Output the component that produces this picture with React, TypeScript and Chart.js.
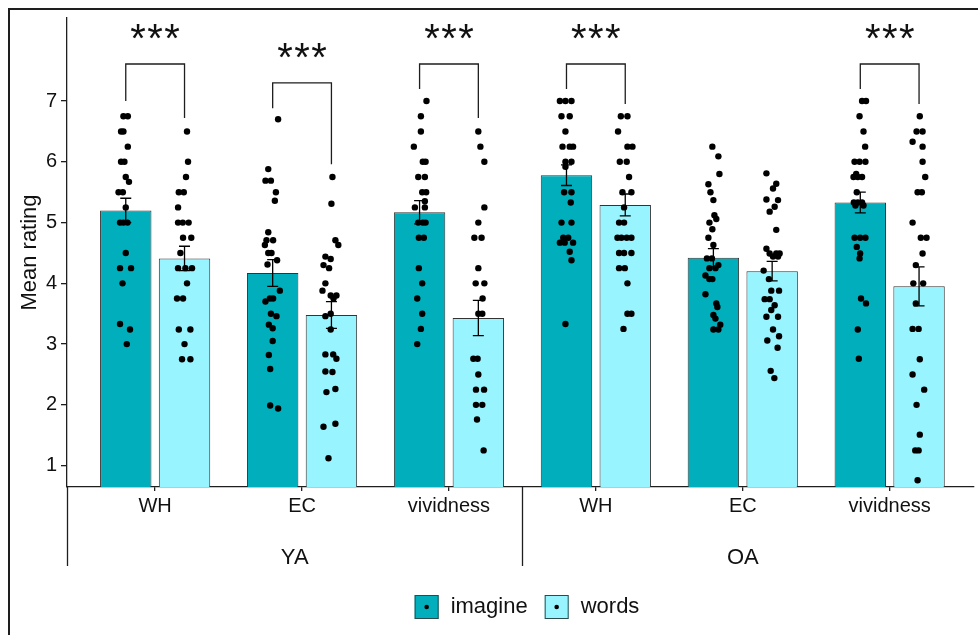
import React, { useEffect, useRef } from "react";
import { Chart, registerables } from "chart.js";

Chart.register(...registerables);

// ---------------- data ----------------
const CATEGORIES = ["WH", "EC", "vividness", "WH", "EC", "vividness"];
const GROUPS = ["YA", "OA"];
const GROUP_START = [-0.6, 2.5];
const GROUP_END = [2.5, 5.5];
const SERIES = ["imagine", "words"];

const IMAGINE_MEANS = [5.2, 4.17, 5.17, 5.78, 4.42, 5.33];
const IMAGINE_SE = [0.2, 0.22, 0.19, 0.17, 0.15, 0.17];
const WORDS_MEANS = [4.41, 3.48, 3.43, 5.29, 4.2, 3.95];
const WORDS_SE = [0.2, 0.22, 0.29, 0.18, 0.16, 0.32];

const Y_TICKS = [1, 2, 3, 4, 5, 6, 7];
const Y_MIN = 0.648;
const Y_MAX = 8.367;

// significance brackets
const SIG_CATS = [0, 1, 2, 3, 5];
const SIG_TOP = [7.61, 7.3, 7.61, 7.61, 7.61];
const SIG_LEFT_END = [7.0, 6.88, 7.2, 7.2, 7.2];
const SIG_RIGHT_END = [6.72, 5.96, 6.72, 6.95, 6.95];
const SIG_LABELS = ["***", "***", "***", "***", "***"];

// individual ratings: [value, horizontal jitter in category units]
const IMAGINE_POINTS: number[][][] = [
  [[6.75,-.016],[6.75,.014],[6.5,-.032],[6.5,-.016],[6.25,.014],[6.0,-.032],[6.0,-.009],[5.75,0],[5.67,.022],[5.5,-.049],[5.5,-.02],[5.25,0],[5.0,-.039],[5.0,-.016],[5.0,.012],[4.5,0],[4.25,-.039],[4.25,.036],[4.0,-.022],[3.33,-.039],[3.24,.029],[3.0,.007]],
  [[6.7,.037],[5.88,-.03],[5.69,-.049],[5.69,-.012],[5.5,.022],[5.36,.015],[4.84,-.03],[4.71,-.042],[4.71,.003],[4.63,-.053],[4.5,-.03],[4.5,-.008],[4.38,.03],[4.31,-.035],[3.88,.049],[3.75,-.019],[3.75,.003],[3.7,-.049],[3.5,-.012],[3.46,.026],[3.32,-.026],[3.26,0],[3.05,0],[2.82,-.026],[2.59,-.017],[1.99,-.017],[1.94,.037]],
  [[7.0,.047],[6.75,.009],[6.5,.009],[6.25,-.039],[6.0,.022],[6.0,.041],[5.75,-.009],[5.75,.036],[5.5,.018],[5.5,.045],[5.35,.036],[5.25,-.032],[5.25,.036],[5.0,-.009],[5.0,.022],[5.0,.041],[4.75,-.005],[4.75,.029],[4.25,-.005],[4.0,.018],[3.75,-.016],[3.5,.018],[3.25,.009],[3.0,-.016]],
  [[7.0,-.045],[7.0,-.007],[7.0,.034],[6.75,-.034],[6.75,.022],[6.5,-.007],[6.25,-.027],[6.25,.022],[6.25,.045],[6.0,-.007],[6.0,.034],[5.92,-.007],[5.5,-.016],[5.5,.034],[5.33,.029],[5.0,-.034],[5.0,.034],[4.75,-.022],[4.75,.012],[4.67,-.045],[4.67,-.012],[4.67,.045],[4.52,.022],[4.38,.034],[3.33,-.007]],
  [[6.25,-.007],[6.09,.034],[5.8,.041],[5.63,-.034],[5.5,-.02],[5.37,0],[5.12,.007],[5.06,.02],[5.0,-.027],[4.89,-.007],[4.75,-.034],[4.63,0],[4.41,-.044],[4.41,-.01],[4.3,.034],[4.25,-.027],[4.25,.014],[4.13,-.054],[4.07,-.027],[4.07,-.007],[3.82,-.054],[3.67,.02],[3.61,.027],[3.48,0],[3.42,.014],[3.32,.047],[3.24,0],[3.24,.034]],
  [[7.0,.012],[7.0,.039],[6.75,-.005],[6.5,.022],[6.25,.033],[6.0,-.039],[6.0,-.005],[6.0,.035],[5.8,-.028],[5.75,-.046],[5.75,-.017],[5.75,.012],[5.5,-.024],[5.33,-.044],[5.33,-.017],[5.33,.012],[5.28,-.033],[5.28,.022],[4.75,-.039],[4.75,-.001],[4.75,.035],[4.6,-.024],[4.49,-.001],[4.41,-.005],[3.75,.005],[3.67,.039],[3.24,-.017],[2.76,-.01]],
];

const WORDS_POINTS: number[][][] = [
  [[6.5,.017],[6.0,.024],[5.75,.01],[5.5,-.039],[5.5,-.005],[5.25,-.044],[5.0,-.044],[5.0,-.012],[5.0,.028],[4.75,-.01],[4.75,.046],[4.5,-.028],[4.25,-.044],[4.25,.006],[4.25,.051],[4.0,.017],[3.75,-.051],[3.75,-.01],[3.24,-.039],[3.24,.04],[3.0,0],[2.75,-.017],[2.75,.04]],
  [[5.75,.007],[5.31,0],[4.71,.027],[4.63,.047],[4.44,-.041],[4.4,-.005],[4.3,-.054],[4.25,-.016],[4.0,-.041],[3.88,-.061],[3.8,-.005],[3.8,.034],[3.75,.014],[3.5,-.005],[3.46,-.041],[3.24,-.005],[2.83,-.041],[2.83,.012],[2.76,.034],[2.55,-.041],[2.54,.007],[2.26,.027],[2.21,-.034],[1.69,.027],[1.64,-.054],[1.12,-.02]],
  [[6.5,0],[6.25,.014],[6.0,.041],[5.25,.041],[5.0,0],[4.75,-.027],[4.75,.022],[4.25,0],[4.0,-.018],[4.0,.041],[3.75,.029],[3.5,0],[3.5,.027],[2.76,-.034],[2.76,-.005],[2.5,0],[2.25,-.016],[2.25,.039],[2.0,-.016],[2.0,.027],[1.76,-.009],[1.25,.036]],
  [[6.75,-.03],[6.75,.015],[6.5,-.049],[6.25,.015],[6.25,.049],[6.0,-.037],[6.0,.01],[5.75,.026],[5.5,-.019],[5.5,.042],[5.25,-.008],[5.0,-.042],[5.0,-.008],[4.75,-.053],[4.75,-.026],[4.75,.01],[4.75,.042],[4.5,-.042],[4.5,-.008],[4.5,.042],[4.25,-.042],[4.25,-.003],[4.0,.015],[3.5,.015],[3.5,.042],[3.25,-.012]],
  [[5.81,-.039],[5.64,.028],[5.56,.006],[5.38,-.039],[5.37,.04],[5.26,.017],[5.18,-.017],[4.88,.028],[4.57,-.039],[4.49,-.017],[4.49,.028],[4.49,.051],[4.44,.006],[4.44,.04],[4.21,-.058],[4.07,-.022],[3.88,-.006],[3.88,.047],[3.74,-.051],[3.74,-.017],[3.64,.017],[3.56,-.006],[3.45,-.039],[3.45,.04],[3.24,.006],[3.13,.047],[3.06,-.033],[2.94,.037],[2.56,-.01],[2.44,.015]],
  [[6.75,.005],[6.5,-.017],[6.5,.024],[6.33,-.044],[6.25,.024],[6.0,.024],[5.75,.042],[5.5,-.01],[5.5,.019],[5.0,-.044],[4.75,.012],[4.75,.051],[4.49,.024],[4.3,-.022],[4.0,-.039],[4.0,.028],[3.67,-.022],[3.25,-.044],[3.25,-.003],[2.75,.005],[2.5,-.044],[2.25,.035],[2.0,-.017],[1.51,.005],[1.25,-.026],[1.25,-.003],[0.76,-.01]],
];

// ---------------- style ----------------
const TEAL = "#00AFBB";
const LIGHT = "#98F5FF";
const INK = "#111111";
const LINE = "#1e1e1e";
const FONT = "'Liberation Sans', Arial, sans-serif";
const CATEGORY_PCT = 0.8;
const BAR_PCT = 0.875;
const DODGE = CATEGORY_PCT / 4;

const W = 978;
const H = 635;

function pointsFor(points: number[][][], side: number) {
  const out: { x: number; y: number }[] = [];
  points.forEach((arr, i) => {
    arr.forEach(([v, j]) => out.push({ x: i + side * DODGE + j, y: v }));
  });
  return out;
}

const overlayPlugin = {
  id: "overlay",
  afterDatasetsDraw(chart: any) {
    const { ctx, scales } = chart;
    const y = scales.y;
    const metas = [chart.getDatasetMeta(0), chart.getDatasetMeta(1)];
    const means = [IMAGINE_MEANS, WORDS_MEANS];
    const ses = [IMAGINE_SE, WORDS_SE];
    ctx.save();
    ctx.strokeStyle = "#000";
    ctx.lineWidth = 1.3;
    for (let s = 0; s < 2; s++) {
      means[s].forEach((m, i) => {
        const cx = metas[s].data[i].x;
        const y1 = y.getPixelForValue(m + ses[s][i]);
        const y2 = y.getPixelForValue(m - ses[s][i]);
        ctx.beginPath();
        ctx.moveTo(cx, y1);
        ctx.lineTo(cx, y2);
        ctx.moveTo(cx - 5.5, y1);
        ctx.lineTo(cx + 5.5, y1);
        ctx.moveTo(cx - 5.5, y2);
        ctx.lineTo(cx + 5.5, y2);
        ctx.stroke();
      });
    }
    ctx.restore();
  },
  afterDraw(chart: any) {
    const { ctx, scales, chartArea } = chart;
    const x = scales.x;
    const y = scales.y;
    const metas = [chart.getDatasetMeta(0), chart.getDatasetMeta(1)];
    ctx.save();

    // significance brackets
    ctx.strokeStyle = LINE;
    ctx.lineWidth = 1.3;
    SIG_CATS.forEach((c, k) => {
      const xl = metas[0].data[c].x;
      const xr = metas[1].data[c].x;
      const yt = y.getPixelForValue(SIG_TOP[k]);
      ctx.beginPath();
      ctx.moveTo(xl, y.getPixelForValue(SIG_LEFT_END[k]));
      ctx.lineTo(xl, yt);
      ctx.lineTo(xr, yt);
      ctx.lineTo(xr, y.getPixelForValue(SIG_RIGHT_END[k]));
      ctx.stroke();
      // stars
      ctx.fillStyle = INK;
      ctx.font = `40px ${FONT}`;
      ctx.textAlign = "center";
      ctx.textBaseline = "alphabetic";
      const m = ctx.measureText("*");
      const off = (m.actualBoundingBoxAscent - m.actualBoundingBoxDescent) / 2;
      const cy = yt - 32.5;
      const mid = (xl + xr) / 2;
      const n = SIG_LABELS[k].length;
      for (let s = 0; s < n; s++) {
        ctx.fillText("*", mid + (s - (n - 1) / 2) * 17, cy + off);
      }
    });

    // group separators and labels
    const b = chartArea.bottom;
    ctx.strokeStyle = LINE;
    ctx.lineWidth = 1.3;
    const seps = Array.from(new Set([...GROUP_START, GROUP_END[0]]));
    seps.forEach((v) => {
      const px = Math.round(x.getPixelForValue(v)) + 0.5;
      ctx.beginPath();
      ctx.moveTo(px, b);
      ctx.lineTo(px, b + 79);
      ctx.stroke();
    });
    ctx.fillStyle = INK;
    ctx.font = `22px ${FONT}`;
    ctx.textAlign = "center";
    ctx.textBaseline = "middle";
    GROUPS.forEach((g, i) => {
      const px = x.getPixelForValue((GROUP_START[i] + GROUP_END[i]) / 2);
      ctx.fillText(g, px, b + 71);
    });

    // legend
    const colors = [TEAL, LIGHT];
    ctx.font = `22px ${FONT}`;
    const box = 24;
    const gapText = 12;
    const gapItem = 17;
    const widths = SERIES.map((s) => ctx.measureText(s).width);
    const total = widths.reduce((a, w) => a + box + gapText + w, 0) + gapItem * (SERIES.length - 1);
    let lx = 527 - total / 2;
    const ly = 607;
    SERIES.forEach((s, i) => {
      ctx.fillStyle = colors[i];
      ctx.fillRect(lx, ly - box / 2, box, box);
      ctx.strokeStyle = "#2a4a4c";
      ctx.lineWidth = 1;
      ctx.strokeRect(lx + 0.5, ly - box / 2 + 0.5, box - 1, box - 1);
      ctx.fillStyle = "#000";
      ctx.beginPath();
      ctx.arc(lx + box / 2, ly, 2.3, 0, Math.PI * 2);
      ctx.fill();
      ctx.fillStyle = INK;
      ctx.textAlign = "left";
      ctx.textBaseline = "middle";
      ctx.fillText(s, lx + box + gapText, ly);
      lx += box + gapText + widths[i] + gapItem;
    });

    // outer frame
    ctx.fillStyle = LINE;
    ctx.fillRect(8, 8, W - 8, 2);
    ctx.fillRect(8, 8, 2, H - 8);
    ctx.restore();
  },
};

export default function App() {
  const ref = useRef<HTMLCanvasElement | null>(null);
  useEffect(() => {
    if (!ref.current) return;
    Chart.defaults.font.family = FONT;
    const chart = new Chart(ref.current, {
      type: "bar",
      data: {
        datasets: [
          {
            type: "bar",
            label: SERIES[0],
            data: IMAGINE_MEANS.map((v, i) => ({ x: i, y: v })),
            backgroundColor: TEAL,
            borderColor: "#333",
            borderWidth: 1,
            categoryPercentage: CATEGORY_PCT,
            barPercentage: BAR_PCT,
            order: 2,
          },
          {
            type: "bar",
            label: SERIES[1],
            data: WORDS_MEANS.map((v, i) => ({ x: i, y: v })),
            backgroundColor: LIGHT,
            borderColor: "#333",
            borderWidth: 1,
            categoryPercentage: CATEGORY_PCT,
            barPercentage: BAR_PCT,
            order: 2,
          },
          {
            type: "scatter",
            label: SERIES[0] + " points",
            data: pointsFor(IMAGINE_POINTS, -1),
            backgroundColor: "#000",
            borderWidth: 0,
            pointRadius: 3.2,
            order: 1,
          },
          {
            type: "scatter",
            label: SERIES[1] + " points",
            data: pointsFor(WORDS_POINTS, 1),
            backgroundColor: "#000",
            borderWidth: 0,
            pointRadius: 3.2,
            order: 1,
          },
        ] as any,
      },
      options: {
        responsive: false,
        animation: false,
        devicePixelRatio: 1,
        events: [],
        layout: { padding: { top: 18, left: 0, right: 0, bottom: 0 } },
        plugins: { legend: { display: false }, tooltip: { enabled: false } },
        scales: {
          x: {
            type: "linear",
            min: -0.6,
            max: 5.574,
            offset: false,
            afterBuildTicks: (s: any) => {
              s.ticks = CATEGORIES.map((_, i) => ({ value: i }));
            },
            afterFit: (s: any) => {
              s.height = 148;
            },
            grid: {
              display: true,
              drawOnChartArea: false,
              drawTicks: true,
              tickLength: 4,
              color: LINE,
              lineWidth: 1.3,
              offset: false,
            },
            border: { display: true, color: LINE, width: 1.3 },
            ticks: {
              callback: (v: any) => CATEGORIES[Math.round(v)] ?? "",
              font: { size: 20, family: FONT },
              color: INK,
              padding: 3,
              maxRotation: 0,
              autoSkip: false,
            },
          },
          y: {
            type: "linear",
            min: Y_MIN,
            max: Y_MAX,
            afterBuildTicks: (s: any) => {
              s.ticks = Y_TICKS.map((v) => ({ value: v }));
            },
            afterFit: (s: any) => {
              s.width = 67;
            },
            grid: {
              display: true,
              drawOnChartArea: false,
              drawTicks: true,
              tickLength: 6,
              color: LINE,
              lineWidth: 1.3,
            },
            border: { display: true, color: LINE, width: 1.3 },
            ticks: {
              font: { size: 20, family: FONT },
              color: INK,
              padding: 4,
              callback: (v: any) => String(v),
            },
            title: {
              display: true,
              text: "Mean rating",
              font: { size: 22, family: FONT },
              color: INK,
              padding: { top: 17, bottom: 0 },
            },
          },
        },
      } as any,
      plugins: [overlayPlugin],
    });
    return () => chart.destroy();
  }, []);

  return (
    <div style={{ position: "fixed", left: 0, top: 0, width: W, height: H, background: "#fff" }}>
      <canvas ref={ref} width={W} height={H} style={{ display: "block", width: W, height: H }} />
    </div>
  );
}
